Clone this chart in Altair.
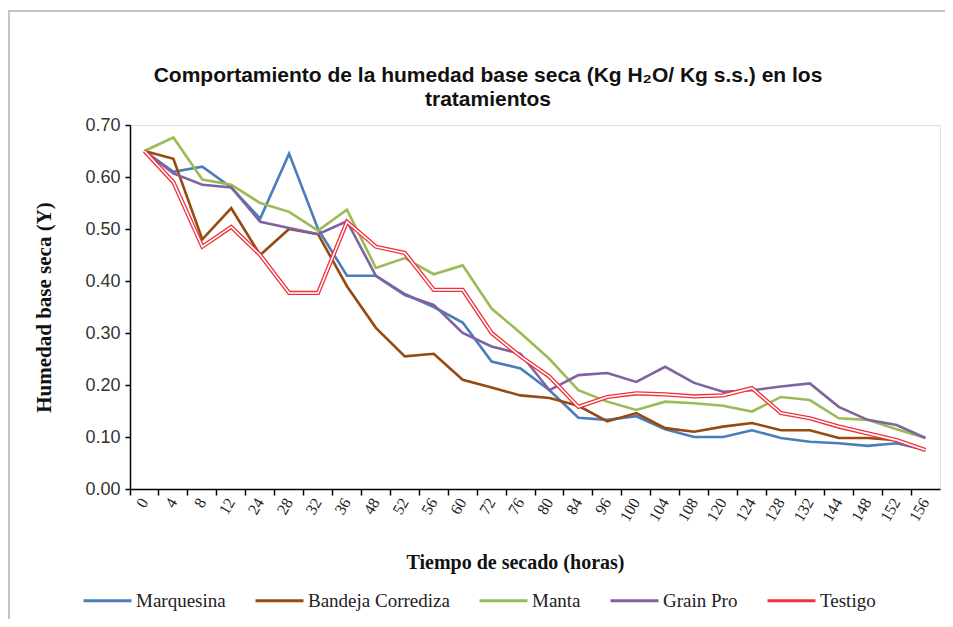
import altair as alt
import pandas as pd

horas = ["0", "4", "8", "12", "24", "28", "32", "36", "48", "52", "56", "60", "72", "76",
         "80", "84", "96", "100", "104", "108", "120", "124", "128", "132", "144", "148", "152", "156"]

marquesina = [0.65, 0.61, 0.62, 0.58, 0.52, 0.645, 0.50, 0.41, 0.41, 0.375, 0.35, 0.32, 0.245, 0.232,
              0.19, 0.137, 0.133, 0.14, 0.115, 0.10, 0.10, 0.113, 0.098, 0.091, 0.088, 0.083, 0.088, 0.075]
bandeja = [0.65, 0.635, 0.48, 0.54, 0.45, 0.50, 0.49, 0.39, 0.31, 0.255, 0.26, 0.21, 0.195, 0.18,
           0.175, 0.16, 0.13, 0.146, 0.117, 0.11, 0.12, 0.127, 0.113, 0.113, 0.098, 0.098, 0.094, 0.075]
manta = [0.65, 0.676, 0.595, 0.585, 0.55, 0.533, 0.497, 0.537, 0.425, 0.444, 0.413, 0.43, 0.347, 0.30,
         0.25, 0.19, 0.168, 0.152, 0.168, 0.165, 0.16, 0.149, 0.177, 0.171, 0.136, 0.133, 0.115, 0.098]
grain_pro = [0.65, 0.607, 0.585, 0.58, 0.514, 0.502, 0.49, 0.515, 0.41, 0.373, 0.354, 0.30, 0.274, 0.26,
             0.19, 0.219, 0.223, 0.206, 0.235, 0.204, 0.187, 0.19, 0.197, 0.203, 0.158, 0.133, 0.123, 0.098]
testigo = [0.65, 0.59, 0.466, 0.504, 0.45, 0.377, 0.377, 0.514, 0.466, 0.454, 0.383, 0.383, 0.30, 0.255,
           0.216, 0.158, 0.177, 0.184, 0.182, 0.178, 0.18, 0.194, 0.146, 0.136, 0.12, 0.107, 0.094, 0.075]

series = ["Marquesina", "Bandeja Corrediza", "Manta", "Grain Pro", "Testigo"]
colores = ["#4A7EBB", "#974A10", "#9BBB59", "#7F63A1", "#F0303A"]
valores = [marquesina, bandeja, manta, grain_pro, testigo]

rows = []
for s, vals in zip(series, valores):
    for h, v in zip(horas, vals):
        rows.append({"hora": h, "serie": s, "valor": v})
df = pd.DataFrame(rows)

x_enc = alt.X(
    "hora:O", sort=horas, bandPosition=0.5,
    scale=alt.Scale(type="band", paddingInner=0, paddingOuter=0),
    axis=alt.Axis(
        title="Tiempo de secado (horas)", bandPosition=0, labelAngle=300,
        labelAlign="right", labelBaseline="middle", labelFont="Liberation Serif",
        labelFontSize=16, labelColor="#222", labelPadding=4,
        titleFont="Liberation Serif", titleFontSize=20, titleFontWeight="bold",
        titleColor="#111", titleX=385, titleY=73, titleBaseline="middle",
        titleAlign="center",
        domainColor="#000", domainWidth=1.5, tickColor="#000", tickWidth=1.5, tickSize=6,
    ),
)
y_enc = alt.Y(
    "valor:Q",
    scale=alt.Scale(domain=[0, 0.7], nice=False),
    axis=alt.Axis(
        title="Humedad base seca (Y)", values=[0, 0.1, 0.2, 0.3, 0.4, 0.5, 0.6, 0.7],
        format=".2f", labelFont="Liberation Sans", labelFontSize=18, labelColor="#333",
        labelPadding=5, titleFont="Liberation Serif", titleFontSize=21,
        titleFontWeight="bold", titleColor="#111", titleX=-76,
        domainColor="#000", domainWidth=1.5, tickColor="#000", tickWidth=1.5, tickSize=5,
        grid=False,
    ),
)

color_enc = alt.Color(
    "serie:N", sort=series,
    scale=alt.Scale(domain=series, range=colores),
    legend=alt.Legend(
        title=None, orient="none", direction="horizontal", legendX=-48, legendY=450,
        symbolType="stroke", symbolSize=2300, symbolStrokeWidth=3,
        labelFont="Liberation Serif", labelFontSize=19, labelColor="#222",
        columnPadding=23, labelOffset=3,
    ),
)

base = alt.Chart(df)
frame = base.mark_rect(filled=False, fillOpacity=0, stroke="#C4C4C4", strokeWidth=2).encode(
    x=alt.value(-121), x2=alt.value(820), y=alt.value(-114), y2=alt.value(520)
)
lines = base.mark_line(strokeWidth=2.6).encode(x=x_enc, y=y_enc, color=color_enc)
testigo_base = base.transform_filter(alt.datum.serie == "Testigo")
outer = testigo_base.mark_line(strokeWidth=4.2, color="#F0303A").encode(x=x_enc, y=y_enc)
inner = testigo_base.mark_line(strokeWidth=1.6, color="white").encode(x=x_enc, y=y_enc)

chart = alt.layer(frame, lines, outer, inner).properties(
    width=810, height=364,
    autosize=alt.AutoSizeParams(type="none"),
    padding={"left": 122, "top": 117, "right": 5, "bottom": 130},
    title=alt.TitleParams(
        text=["Comportamiento de la humedad base seca (Kg H\u2082O/ Kg s.s.) en los", "tratamientos"],
        font="Liberation Sans", fontSize=21, fontWeight="bold", color="#111",
        anchor="middle", dx=-47, dy=116, offset=16, lineHeight=24, zindex=1,
    ),
).configure_view(stroke="transparent", strokeWidth=0).configure(background="white")

chart.save("out.html", embed_options={"renderer": "svg", "actions": False})
